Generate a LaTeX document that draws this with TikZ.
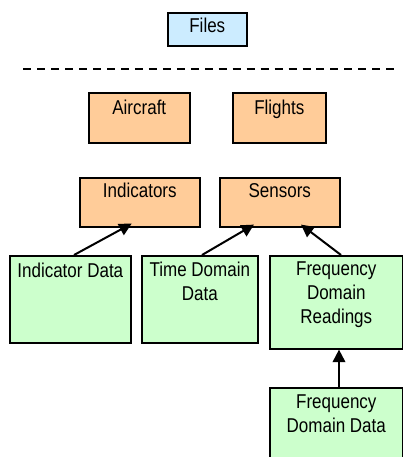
\documentclass[tikz,border=0pt]{standalone}
\usepackage{fontspec}
\setmainfont{Liberation Sans}[FakeStretch=0.85]
\usetikzlibrary{arrows.meta}
\definecolor{filesblue}{HTML}{CCECFF}
\definecolor{entityorange}{HTML}{FFCC99}
\definecolor{datagreen}{HTML}{CCFFCC}
\begin{document}
\begin{tikzpicture}[x=1pt,y=-1pt,
  frame/.style={draw=black, line width=1.6pt, inner sep=0pt, anchor=north west},
  bluebox/.style={frame, fill=filesblue},
  orangebox/.style={frame, fill=entityorange},
  greenbox/.style={frame, fill=datagreen},
  lbl/.style={anchor=north, inner sep=0pt, align=center,
              font=\fontsize{20}{23.8}\selectfont},
  link/.style={draw=black, line width=2pt,
               -{Triangle[length=12.5pt,width=12.5pt]}}]
\clip (0,0) rectangle (403,457);

% header box
\node[bluebox, minimum width=79pt, minimum height=33pt] (files) at (167,12) {};
\node[lbl] (filestxt) at ([yshift=-6.3pt]files.north) {Files};

% separator
\coordinate (sepl) at (23.3,69);
\coordinate (sepr) at (394,69);
\draw[line width=2pt, dash pattern=on 8pt off 5.96pt] (sepl) -- (sepr);

% entity boxes
\node[orangebox, minimum width=101pt, minimum height=50pt] (air) at (88,92) {};
\node[lbl] (airtxt) at ([yshift=-7.5pt]air.north) {Aircraft};
\node[orangebox, minimum width=93pt, minimum height=50pt] (flt) at (232,92) {};
\node[lbl] (flttxt) at ([yshift=-7.5pt]flt.north) {Flights};
\node[orangebox, minimum width=120pt, minimum height=49pt] (ind) at (79,177) {};
\node[lbl] (indtxt) at ([yshift=-6.3pt]ind.north) {Indicators};
\node[orangebox, minimum width=120pt, minimum height=49pt] (sen) at (219,177) {};
\node[lbl] (sentxt) at ([yshift=-6.3pt]sen.north) {Sensors};

% data boxes
\node[greenbox, minimum width=121pt, minimum height=87pt] (indd) at (9,255) {};
\node[lbl] (inddtxt) at ([yshift=-7.5pt]indd.north) {Indicator Data};
\node[greenbox, minimum width=116pt, minimum height=87pt] (tdd) at (141,255) {};
\node[lbl] (tddtxt) at ([yshift=-7pt]tdd.north) {Time Domain\\Data};
\node[greenbox, minimum width=133pt, minimum height=93pt] (fdr) at (269,255) {};
\node[lbl] (fdrtxt) at ([yshift=-7pt]fdr.north) {Frequency\\Domain\\Readings};
\node[greenbox, minimum width=133pt, minimum height=90pt] (fdd) at (269,387) {};
\node[lbl] (fddtxt) at ([yshift=-8pt]fdd.north) {Frequency\\Domain Data};

% connectors
\coordinate (s1) at ([xshift=65pt]indd.north west);
\coordinate (t1) at ([xshift=52.7pt,yshift=4pt]ind.south west);
\coordinate (s2) at ([xshift=61pt]tdd.north west);
\coordinate (t2) at ([xshift=35pt,yshift=3pt]sen.south west);
\coordinate (s3) at ([xshift=72pt]fdr.north west);
\coordinate (t3) at ([xshift=82pt,yshift=3pt]sen.south west);
\coordinate (s4) at ([xshift=70pt]fdd.north west);
\coordinate (t4) at ([xshift=70pt]fdr.south west);
\draw[link] (s1) -- (t1);
\draw[link] (s2) -- (t2);
\draw[link] (s3) -- (t3);
\draw[link] (s4) -- (t4);
\end{tikzpicture}
\end{document}
